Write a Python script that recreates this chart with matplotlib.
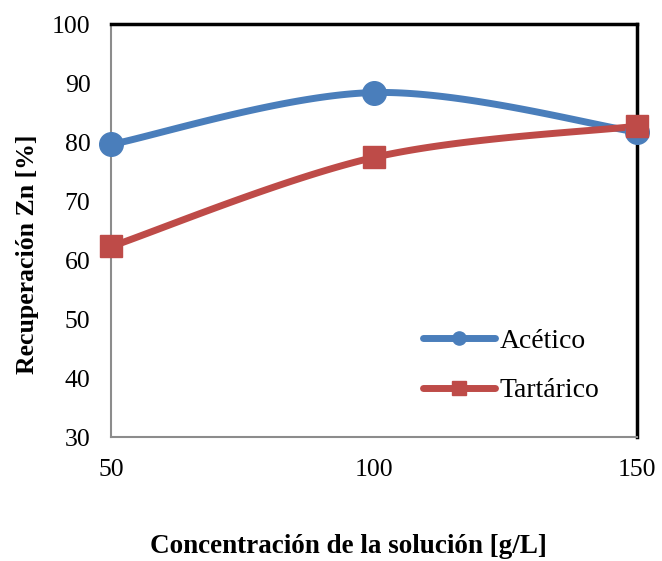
import numpy as np
import matplotlib
matplotlib.use("agg")
import matplotlib.pyplot as plt
from matplotlib.lines import Line2D

# recovery data
concentracion = [50, 100, 150]
acetico = [79.6, 88.4, 81.7]
tartarico = [62.3, 77.4, 82.7]

x_ticks = [50, 100, 150]
y_ticks = [30, 40, 50, 60, 70, 80, 90, 100]

BLUE = "#4A7EBB"
RED = "#BE4B48"


def smooth_curve(xs, ys, n=60):
    """Spreadsheet-style smoothed line: cubic Bezier through each point,
    control points from the neighbouring points (Catmull-Rom)."""
    pts = np.column_stack([xs, ys]).astype(float)
    padded = np.vstack([pts[0], pts, pts[-1]])
    out = []
    for i in range(len(pts) - 1):
        p0, p1, p2, p3 = padded[i], padded[i + 1], padded[i + 2], padded[i + 3]
        c1 = p1 + (p2 - p0) / 6.0
        c2 = p2 - (p3 - p1) / 6.0
        t = np.linspace(0, 1, n)[:, None]
        seg = ((1 - t) ** 3 * p1 + 3 * (1 - t) ** 2 * t * c1
               + 3 * (1 - t) * t ** 2 * c2 + t ** 3 * p2)
        out.append(seg if i == 0 else seg[1:])
    curve = np.vstack(out)
    return curve[:, 0], curve[:, 1]


plt.rcParams["font.family"] = ["Liberation Serif", "DejaVu Serif"]

fig = plt.figure(figsize=(6.62, 5.61), dpi=100)
ax = fig.add_axes([0.168, 0.221, 0.794, 0.736])

for ys, color, marker in [(acetico, BLUE, "o"), (tartarico, RED, "s")]:
    cx, cy = smooth_curve(concentracion, ys)
    ax.plot(cx, cy, color=color, lw=5, solid_capstyle="round", clip_on=False, zorder=3)
    ax.plot(concentracion, ys, linestyle="none", marker=marker, color=color,
            markersize=17 if marker == "o" else 16, clip_on=False, zorder=4)

ax.set_xlim(50, 150)
ax.set_ylim(30, 100)
ax.set_xticks(x_ticks)
ax.set_yticks(y_ticks)
ax.tick_params(length=0, labelsize=18.5, colors="black")
ax.tick_params(axis="x", pad=16)
ax.tick_params(axis="y", pad=15)

for side in ["left", "bottom"]:
    ax.spines[side].set_color("#8c8c8c")
    ax.spines[side].set_linewidth(1.5)
for side in ["top", "right"]:
    ax.spines[side].set_color("black")
    ax.spines[side].set_linewidth(2.5)

ax.set_xlabel("Concentración de la solución [g/L]", fontsize=19.5, fontweight="bold")
ax.xaxis.set_label_coords(0.452, -0.235)
ax.set_ylabel("Recuperación Zn [%]", fontsize=18.5, fontweight="bold")
ax.yaxis.set_label_coords(-0.137, 0.443)

handles = [
    Line2D([], [], color=BLUE, lw=5, marker="o", markersize=9.5, solid_capstyle="round"),
    Line2D([], [], color=RED, lw=5, marker="s", markersize=9.5, solid_capstyle="round"),
]
ax.legend(handles, ["Acético", "Tartárico"], loc="center left",
          bbox_to_anchor=(0.593, 0.172), frameon=False, fontsize=20,
          handlelength=2.6, handletextpad=0.15, labelspacing=0.85,
          borderpad=0, borderaxespad=0)

fig.savefig("out.png", dpi=100)
